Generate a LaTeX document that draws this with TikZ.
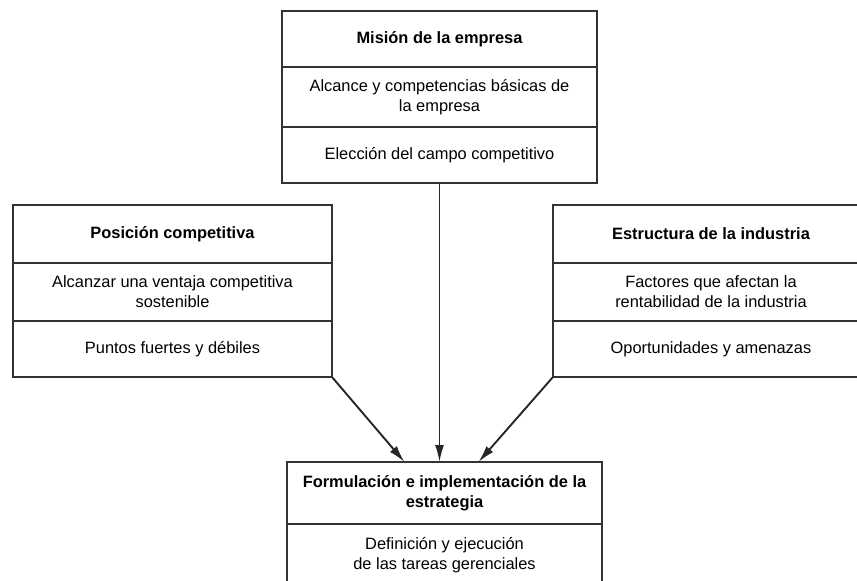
\documentclass[tikz,border=0pt]{standalone}
\usepackage{fontspec}
\setsansfont{Liberation Sans}
\usetikzlibrary{arrows.meta,positioning}
\tikzset{
  strat-cell/.style={draw=black!80, fill=white, line width=0.8pt, align=center,
    font=\sffamily\fontsize{8.2}{10}\selectfont, inner sep=2pt, outer sep=0pt},
  strat-head/.style={strat-cell, font=\sffamily\bfseries\fontsize{8.2}{10}\selectfont},
  strat-arrow/.style={-{Latex[length=8.5pt,width=4.5pt]}, line width=0.95pt, black!85}
}

\begin{document}
\begin{tikzpicture}[x=0.5pt, y=-0.5pt]
  \useasboundingbox (0,0) rectangle (857,580);
  \clip (0,0) rectangle (857,580);

  % Mision box
  \node[strat-head, minimum width=157.5pt, minimum height=28pt] (mision) at (439.5,39) {Misión de la empresa};
  \node[strat-cell, minimum width=157.5pt, minimum height=30pt, below=0pt of mision] (alcance) {Alcance y competencias básicas de\\la empresa};
  \node[strat-cell, minimum width=157.5pt, minimum height=28pt, below=0pt of alcance] (campo) {Elección del campo competitivo};

  % Posicion box
  \node[strat-head, minimum width=159.5pt, minimum height=29pt] (posicion) at (172.5,234) {Posición competitiva};
  \node[strat-cell, minimum width=159.5pt, minimum height=29pt, below=0pt of posicion] (ventaja) {Alcanzar una ventaja competitiva\\sostenible};
  \node[strat-cell, minimum width=159.5pt, minimum height=28pt, below=0pt of ventaja] (puntos) {Puntos fuertes y débiles};

  % Estructura box
  \node[strat-head, minimum width=158pt, minimum height=29pt] (estructura) at (711,234) {Estructura de la industria};
  \node[strat-cell, minimum width=158pt, minimum height=29pt, below=0pt of estructura] (factores) {Factores que afectan la\\rentabilidad de la industria};
  \node[strat-cell, minimum width=158pt, minimum height=28pt, below=0pt of factores] (amenazas) {Oportunidades y amenazas};

  % Formulacion box
  \node[strat-head, minimum width=157.5pt, minimum height=31pt] (formul) at (444.5,493) {Formulación e implementación de la\\estrategia};
  \node[strat-cell, minimum width=157.5pt, minimum height=31pt, below=0pt of formul] (tareas) {Definición y ejecución\\de las tareas gerenciales};

  % Arrows
  \draw[strat-arrow] (campo.south) -- (campo.south |- formul.north);
  \draw[strat-arrow] (puntos.south east) -- ([xshift=-20pt]formul.north);
  \draw[strat-arrow] (amenazas.south west) -- ([xshift=17pt]formul.north);
\end{tikzpicture}
\end{document}
